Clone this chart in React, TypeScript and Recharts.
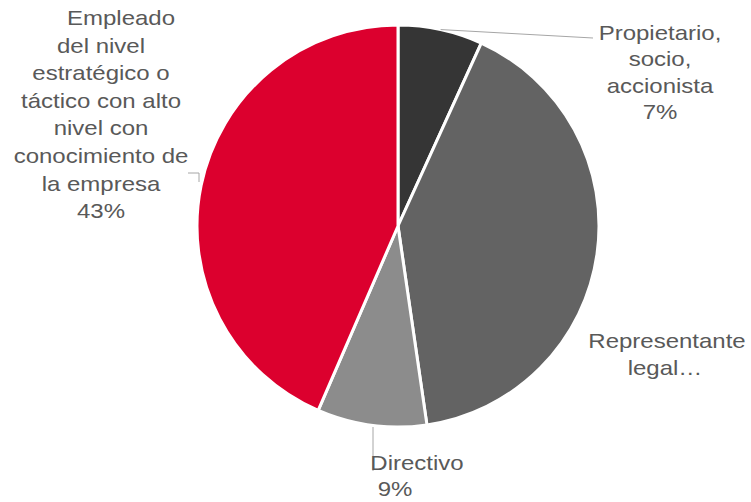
import React from "react";
import { PieChart, Pie, Cell } from "recharts";

const categories = [
  "Propietario, socio, accionista",
  "Representante legal…",
  "Directivo",
  "Empleado del nivel estratégico o táctico con alto nivel con conocimiento de la empresa",
];
const values = [6.8, 40.9, 8.8, 43.5];
const labelLines = [
  ["Propietario,", "socio,", "accionista", "7%"],
  ["Representante", "legal…"],
  ["Directivo", "9%"],
  ["Empleado", "del nivel", "estratégico o", "táctico con alto", "nivel con", "conocimiento de", "la empresa", "43%"],
];
const colors = ["#353535", "#636363", "#8c8c8c", "#dc002e"];

const data = categories.map((name, i) => ({ name, value: values[i] }));

const RAD = Math.PI / 180;

// label placement, per slice
const layout = [
  { y: 40, lh: 26.5, xs: [660, 660, 660, 660], line: [[593, 38]] },
  { y: 348, lh: 27, xs: [667, 665], line: null },
  { y: 470, lh: 26, xs: [417, 395], line: [[373, 427], [373, 471]] },
  { y: 25, lh: 27.6, xs: [121, 101, 101, 101, 101, 101, 101, 101], line: [[188, 173], [199, 173], [199, 182]] },
];

function renderLabel(props: any) {
  const { cx, cy, midAngle, outerRadius, index } = props;
  const l = layout[index];
  const sx = cx + outerRadius * Math.cos(-midAngle * RAD);
  const sy = cy + outerRadius * Math.sin(-midAngle * RAD);
  let path = "";
  if (l.line) {
    if (index === 0) path = `M${sx},${sy} L${l.line[0][0]},${l.line[0][1]}`;
    else path = l.line.map((p, i) => `${i ? "L" : "M"}${p[0]},${p[1]}`).join(" ");
  }
  return (
    <g key={`lbl-${index}`}>
      {path && <path d={path} stroke="#a6a6a6" strokeWidth={1} fill="none" />}
      {labelLines[index].map((t, i) => {
        const x = l.xs[i];
        return (
          <text
            key={i}
            x={x}
            y={l.y + i * l.lh}
            fill="#595959"
            fontSize={20}
            fontFamily="'Liberation Sans', Arial, sans-serif"
            textAnchor="middle"
            transform={`translate(${x},0) scale(1.2,1) translate(${-x},0)`}
          >
            {t}
          </text>
        );
      })}
    </g>
  );
}

export default function App() {
  return (
    <div style={{ position: "absolute", left: 0, top: 0, width: 751, height: 502, background: "#fff" }}>
      <PieChart width={751} height={502} margin={{ top: 0, right: 0, bottom: 0, left: 0 }}>
        <Pie
          data={data}
          dataKey="value"
          nameKey="name"
          cx={398}
          cy={226}
          outerRadius={201}
          startAngle={90}
          endAngle={-270}
          stroke="#ffffff"
          strokeWidth={3}
          label={renderLabel}
          labelLine={false}
          isAnimationActive={false}
        >
          {data.map((entry, i) => (
            <Cell key={`cell-${i}`} fill={colors[i]} />
          ))}
        </Pie>
      </PieChart>
    </div>
  );
}
